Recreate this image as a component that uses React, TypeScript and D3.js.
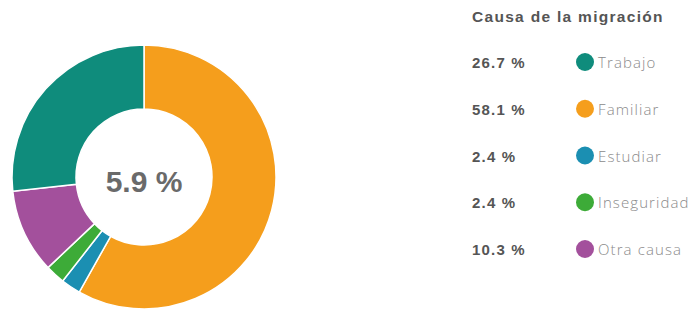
import React from "react";
import * as d3 from "d3";

const causes = ["Familiar", "Estudiar", "Inseguridad", "Otra causa", "Trabajo"];
const shares = [58.1, 2.4, 2.4, 10.3, 26.7];
const colors = ["#f59e1c", "#1b8fb2", "#3dab38", "#a3509c", "#0f8c7c"];
const legendOrder = ["Trabajo", "Familiar", "Estudiar", "Inseguridad", "Otra causa"];
const centerLabel = "5.9 %";
const legendTitle = "Causa de la migración";

const W = 695;
const H = 314;

const App = () => {
  const ref = React.useRef<SVGSVGElement>(null);

  React.useEffect(() => {
    const svg = d3.select(ref.current);
    svg.selectAll("*").remove();

    const cx = 144, cy = 177, outer = 132, inner = 68;
    const color = d3.scaleOrdinal<string, string>().domain(causes).range(colors);
    const pie = d3.pie<number>().sort(null).value(d => d);
    const arc = d3.arc<d3.PieArcDatum<number>>().innerRadius(inner).outerRadius(outer);

    const g = svg.append("g").attr("transform", `translate(${cx},${cy})`);
    g.selectAll("path")
      .data(pie(shares))
      .enter().append("path")
        .attr("d", arc)
        .attr("fill", (_, i) => color(causes[i]))
        .attr("stroke", "#fff")
        .attr("stroke-width", 1.5);

    g.append("text")
      .attr("text-anchor", "middle")
      .attr("y", 15)
      .attr("font-family", "'Liberation Sans', Arial, sans-serif")
      .attr("font-weight", 700)
      .attr("font-size", 30)
      .attr("fill", "#6a6a6a")
      .text(centerLabel);

    const leg = svg.append("g");
    leg.append("text")
      .attr("x", 472).attr("y", 22)
      .attr("font-family", "'Liberation Sans', Arial, sans-serif")
      .attr("font-size", 15.5).attr("font-weight", 700)
      .attr("letter-spacing", 1.3)
      .attr("fill", "#555")
      .text(legendTitle);

    const yRow = d3.scalePoint(legendOrder, [62, 249]);
    const rows = leg.selectAll("g.row")
      .data(legendOrder)
      .enter().append("g")
        .attr("class", "row")
        .attr("transform", d => `translate(0,${yRow(d)})`);

    rows.append("text")
      .attr("x", 472).attr("y", 6)
      .attr("font-family", "'Liberation Sans', Arial, sans-serif")
      .attr("font-size", 15).attr("font-weight", 700)
      .attr("letter-spacing", 1.2)
      .attr("fill", "#555")
      .text(d => `${shares[causes.indexOf(d)]} %`);
    rows.append("circle")
      .attr("cx", 585).attr("cy", 0).attr("r", 9)
      .attr("fill", d => color(d));
    rows.append("text")
      .attr("x", 598).attr("y", 6)
      .attr("font-family", "'Open Sans', Lato, sans-serif")
      .attr("font-size", 15).attr("font-weight", 300)
      .attr("letter-spacing", 1.1)
      .attr("fill", "#8a8a8a")
      .text(d => d);
  }, []);

  return (
    <svg ref={ref} width={W} height={H}
      style={{ position: "absolute", left: 0, top: 0, background: "#fff" }} />
  );
};

export default App;
